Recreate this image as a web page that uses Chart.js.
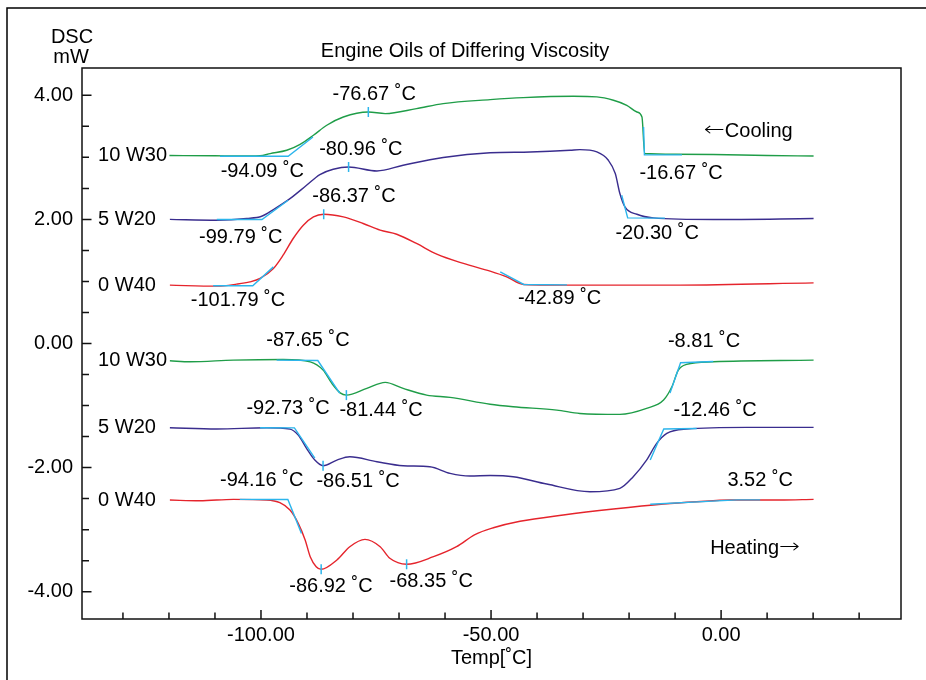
<!DOCTYPE html>
<html lang="en">

<head>
    <meta charset="UTF-8">
    <title>Engine Oils of Differing Viscosity</title>
    <script src="https://cdn.jsdelivr.net/npm/chart.js"></script>
    <style>
        body {
            margin: 0;
            padding: 0;
            background-color: #fff;
        }

        .wrap {
            width: 926px;
            height: 680px;
        }
    </style>
</head>

<body>
    <div class="wrap"><canvas id="dscChart" width="926" height="680"></canvas></div>

    <script>
        // Axis ticks
        const X_TICKS = [-100, -50, 0];
        const X_MINOR = [-130, -120, -110, -100, -90, -80, -70, -60, -50, -40, -30, -20, -10, 0, 10, 20, 30];
        const Y_TICKS = [4, 2, 0, -2, -4];
        const Y_MINOR = [-4, -3.5, -3, -2.5, -2, -1.5, -1, -0.5, 0, 0.5, 1, 1.5, 2, 2.5, 3, 3.5, 4];

        const NAMES = ['10 W30', '5 W20', '0 W40'];

        // Cooling runs [temp, mW]
        const cool10W30 = [[-119.9, 3.03], [-110, 3.025], [-102.4, 3.022], [-100.2, 3.025], [-98.0, 3.061],
            [-94.4, 3.114], [-91.5, 3.21], [-88.6, 3.356], [-85.7, 3.517], [-82.1, 3.65], [-76.67, 3.731],
            [-73.0, 3.705], [-66.2, 3.786], [-60.4, 3.866], [-50.2, 3.93], [-43.0, 3.963], [-32.1, 3.984],
            [-27.0, 3.975], [-23.4, 3.92], [-20.5, 3.839], [-18.3, 3.731], [-17.2, 3.65], [-16.6, 3.061],
            [-10, 3.05], [-1.7, 3.045], [10, 3.03], [20.1, 3.022]];
        const cool5W20 = [[-119.8, 2.0], [-109.6, 1.987], [-103.1, 2.014], [-99.85, 2.051], [-97.3, 2.159],
            [-93.7, 2.335], [-90.1, 2.55], [-87.2, 2.723], [-84.3, 2.808], [-80.96, 2.845], [-74.8, 2.781],
            [-69.1, 2.873], [-60.4, 2.997], [-50.2, 3.074], [-41.5, 3.087], [-32.8, 3.114], [-30.7, 3.125],
            [-27.0, 3.087], [-24.5, 2.953], [-23.0, 2.739], [-22.0, 2.417], [-20.9, 2.201], [-18.3, 2.083],
            [-14.7, 2.024], [-1.7, 1.998], [20.1, 2.014]];
        const cool0W40 = [[-119.8, 0.94], [-109.6, 0.924], [-105.3, 0.956], [-102.4, 0.993], [-100.2, 1.048],
            [-97.3, 1.209], [-95.2, 1.423], [-93.0, 1.692], [-90.8, 1.906], [-88.6, 2.04], [-86.37, 2.083],
            [-82.1, 2.04], [-77.8, 1.934], [-74.1, 1.826], [-70.5, 1.761], [-66.2, 1.612], [-61.8, 1.44],
            [-56.0, 1.29], [-50.2, 1.166], [-46.6, 1.074], [-42.9, 0.951], [-30.7, 0.94], [-8.9, 0.94],
            [20.1, 0.977]];

        // Heating runs [temp, mW]
        const heat10W30 = [[-119.8, -0.279], [-115.4, -0.295], [-106.0, -0.268], [-95.2, -0.257], [-89.3, -0.295],
            [-86.5, -0.429], [-84.6, -0.643], [-82.8, -0.795], [-81.44, -0.832], [-77.0, -0.724], [-73.0, -0.627],
            [-69.1, -0.724], [-64.0, -0.832], [-58.9, -0.869], [-50.2, -0.98], [-45.2, -1.02], [-35.7, -1.073],
            [-30.7, -1.127], [-22.0, -1.143], [-16.2, -1.046], [-12.5, -0.912], [-10.7, -0.698], [-9.3, -0.429],
            [-7.5, -0.337], [-1.7, -0.295], [20.1, -0.268]];
        const heat5W20 = [[-119.8, -1.358], [-109.6, -1.379], [-98.8, -1.358], [-93.7, -1.379], [-91.9, -1.476],
            [-90.1, -1.69], [-88.3, -1.879], [-86.51, -1.97], [-83.5, -1.879], [-80.7, -1.825], [-74.8, -1.906],
            [-69.1, -1.97], [-63.3, -1.987], [-58.9, -2.093], [-54.6, -2.136], [-50.2, -2.128], [-45.2, -2.147],
            [-37.9, -2.265], [-28.5, -2.389], [-22.0, -2.334], [-19.1, -2.147], [-16.2, -1.879], [-14.0, -1.61],
            [-11.8, -1.449], [-7.5, -1.379], [5.6, -1.352], [20.1, -1.352]];
        const heat0W40 = [[-119.8, -2.523], [-113.3, -2.534], [-106.0, -2.512], [-98.8, -2.523], [-95.9, -2.566],
            [-93.7, -2.684], [-91.9, -2.898], [-90.4, -3.167], [-89.3, -3.436], [-88.0, -3.597], [-86.92, -3.639],
            [-83.5, -3.489], [-80.7, -3.275], [-77.4, -3.156], [-74.1, -3.275], [-72.0, -3.462], [-68.35, -3.558],
            [-62.5, -3.436], [-57.5, -3.275], [-53.5, -3.08], [-49.5, -2.97], [-43.7, -2.865], [-34.3, -2.764],
            [-23.4, -2.668], [-12.5, -2.587], [-5.3, -2.55], [2.0, -2.523], [12.8, -2.523], [20.1, -2.512]];

        // Onset / endset tangent constructions
        const TANGENTS = [
            [[-108.9, 3.018], [-94.09, 3.018], [-88.7, 3.328]],
            [[-16.85, 3.49], [-16.67, 3.04], [-8.5, 3.04]],
            [[-109.6, 1.998], [-99.79, 1.998], [-94.1, 2.309]],
            [[-21.6, 2.39], [-20.30, 2.024], [-12.2, 2.02]],
            [[-110.4, 0.93], [-101.79, 0.93], [-97.3, 1.235]],
            [[-48.0, 1.154], [-42.89, 0.951], [-33.5, 0.945]],
            [[-96.6, -0.268], [-87.65, -0.275], [-82.9, -0.80]],
            [[-11.1, -0.80], [-8.81, -0.311], [-1.7, -0.29]],
            [[-100.2, -1.358], [-92.73, -1.36], [-88.3, -1.846]],
            [[-15.4, -1.879], [-12.46, -1.379], [-5.3, -1.37]],
            [[-104.6, -2.512], [-94.16, -2.515], [-91.2, -3.06]],
            [[-15.4, -2.59], [3.52, -2.52], [8.5, -2.52]]
        ];

        // Peak markers
        const PEAKS = [[-76.67, 3.731], [-80.96, 2.845], [-86.37, 2.083], [-81.44, -0.832],
            [-86.51, -1.97], [-86.92, -3.639], [-68.35, -3.558]];

        // Text annotations (temp, mW)
        const NOTES = [
            ['-76.67 ˚C', -75.4, 4.016], ['-94.09 ˚C', -99.7, 2.776], ['-80.96 ˚C', -78.3, 3.13],
            ['-99.79 ˚C', -104.4, 1.702], ['-86.37 ˚C', -79.8, 2.373], ['-101.79 ˚C', -105.0, 0.698],
            ['-16.67 ˚C', -8.7, 2.739], ['-20.30 ˚C', -13.9, 1.773],
            ['-42.89 ˚C', -35.1, 0.726], ['-87.65 ˚C', -89.8, 0.054], ['-92.73 ˚C', -94.1, -1.046],
            ['-81.44 ˚C', -73.9, -1.085], ['-94.16 ˚C', -99.85, -2.2], ['-86.51 ˚C', -78.9, -2.228],
            ['-86.92 ˚C', -84.8, -3.919], ['-68.35 ˚C', -63.0, -3.838], ['-8.81 ˚C', -3.7, 0.027],
            ['-12.46 ˚C', -1.3, -1.073], ['3.52 ˚C', 8.5, -2.2]
        ];
        // direction notes: [arrow, word, arrow first?, temp, mW]
        const DIRECTIONS = [['←', 'Cooling', true, 5.9, 3.42], ['→', 'Heating', false, 7.4, -3.3]];
        const NAME_T = -135.4;

        const FONT = 'Liberation Sans, Arial, sans-serif';
        const ARROW_FONT = '200 20px DejaVu Sans, sans-serif';
        const GREEN = '#1f9d48', PURPLE = '#3a2d8e', RED = '#e5242c', CYAN = '#2cb5ec';

        Chart.defaults.font.family = FONT;
        Chart.defaults.font.size = 20;
        Chart.defaults.color = '#000';

        const runs = [
            [cool10W30, GREEN], [cool5W20, PURPLE], [cool0W40, RED],
            [heat10W30, GREEN], [heat5W20, PURPLE], [heat0W40, RED]
        ];

        function toXY(points) {
            return points.map(p => ({ x: p[0], y: p[1] }));
        }

        const datasets = [];
        runs.forEach(r => {
            datasets.push({
                data: toXY(r[0]),
                showLine: true,
                borderColor: r[1],
                borderWidth: 1.4,
                pointRadius: 0,
                cubicInterpolationMode: 'monotone',
                order: 2
            });
        });
        TANGENTS.forEach(t => {
            datasets.push({
                data: toXY(t),
                showLine: true,
                borderColor: CYAN,
                borderWidth: 1.4,
                pointRadius: 0,
                tension: 0,
                order: 1
            });
        });
        datasets.push({
            data: toXY(PEAKS),
            showLine: false,
            pointStyle: 'line',
            rotation: 90,
            pointRadius: 5,
            borderColor: CYAN,
            borderWidth: 1.5,
            order: 0
        });

        // arrow glyph stretched a bit so it reads like the original's long arrow
        function drawArrowWord(ctx, d, cx, cy) {
            ctx.font = ARROW_FONT;
            const aw = ctx.measureText(d[0]).width;
            const stretch = 21 / aw;
            ctx.font = '20px ' + FONT;
            const ww = ctx.measureText(d[1]).width;
            const left = cx - (21 + ww) / 2;
            const arrowX = d[2] ? left : left + ww;
            const wordX = d[2] ? left + 21 : left;
            ctx.textAlign = 'left';
            ctx.fillText(d[1], wordX, cy);
            ctx.save();
            ctx.font = ARROW_FONT;
            ctx.translate(arrowX, cy);
            ctx.scale(stretch, 1);
            ctx.fillText(d[0], 0, 0);
            ctx.restore();
        }

        // frame, inward ticks and text labels
        const decorations = {
            id: 'decorations',
            beforeDraw(chart) {
                const ctx = chart.ctx;
                ctx.save();
                ctx.strokeStyle = '#000';
                ctx.lineWidth = 1.5;
                ctx.beginPath();
                ctx.moveTo(7, chart.height);
                ctx.lineTo(7, 8);
                ctx.lineTo(chart.width, 8);
                ctx.stroke();
                ctx.restore();
            },
            afterDraw(chart) {
                const { ctx, chartArea: a, scales: { x, y } } = chart;
                ctx.save();
                ctx.strokeStyle = '#111';
                ctx.lineWidth = 1.5;
                ctx.strokeRect(a.left, a.top, a.right - a.left, a.bottom - a.top);

                ctx.beginPath();
                X_MINOR.forEach(v => {
                    const px = x.getPixelForValue(v);
                    const len = X_TICKS.includes(v) ? 9 : 6.5;
                    ctx.moveTo(px, a.bottom);
                    ctx.lineTo(px, a.bottom - len);
                });
                Y_MINOR.forEach(v => {
                    const py = y.getPixelForValue(v);
                    const len = Y_TICKS.includes(v) ? 9.5 : 7;
                    ctx.moveTo(a.left, py);
                    ctx.lineTo(a.left + len, py);
                });
                ctx.stroke();

                ctx.fillStyle = '#000';
                ctx.font = '20px ' + FONT;
                ctx.textBaseline = 'middle';
                ctx.textAlign = 'center';
                ctx.fillText('Engine Oils of Differing Viscosity', 465, 51);
                ctx.fillText('DSC', 72, 37);
                ctx.fillText('mW', 71, 57);

                NOTES.forEach(n => {
                    ctx.fillText(n[0], x.getPixelForValue(n[1]), y.getPixelForValue(n[2]));
                });

                ctx.textAlign = 'left';
                runs.forEach((r, i) => {
                    ctx.fillText(NAMES[i % 3], x.getPixelForValue(NAME_T), y.getPixelForValue(r[0][0][1]));
                });

                DIRECTIONS.forEach(d => {
                    drawArrowWord(ctx, d, x.getPixelForValue(d[3]), y.getPixelForValue(d[4]));
                });
                ctx.restore();
            }
        };

        const chart = new Chart(document.getElementById('dscChart'), {
            type: 'scatter',
            data: { datasets: datasets },
            options: {
                responsive: false,
                animation: false,
                layout: { padding: { top: 68, right: 25, left: 0, bottom: 0 } },
                plugins: {
                    legend: { display: false },
                    title: { display: false },
                    tooltip: { enabled: false }
                },
                scales: {
                    x: {
                        type: 'linear',
                        min: -138.9,
                        max: 39.1,
                        afterBuildTicks: s => { s.ticks = X_TICKS.map(v => ({ value: v })); },
                        afterFit: s => { s.height = 61; },
                        grid: { display: false, drawTicks: false },
                        border: { display: false },
                        ticks: {
                            padding: 4,
                            maxRotation: 0,
                            autoSkip: false,
                            callback: v => v.toFixed(2)
                        },
                        title: {
                            display: true,
                            text: 'Temp[˚C]',
                            padding: { top: 0, bottom: 10 }
                        }
                    },
                    y: {
                        type: 'linear',
                        min: -4.44,
                        max: 4.44,
                        afterBuildTicks: s => { s.ticks = Y_TICKS.map(v => ({ value: v })); },
                        afterFit: s => { s.width = 82; },
                        grid: { display: false, drawTicks: false },
                        border: { display: false },
                        ticks: {
                            padding: 9,
                            callback: v => v.toFixed(2)
                        }
                    }
                }
            },
            plugins: [decorations]
        });
    </script>
</body>

</html>
